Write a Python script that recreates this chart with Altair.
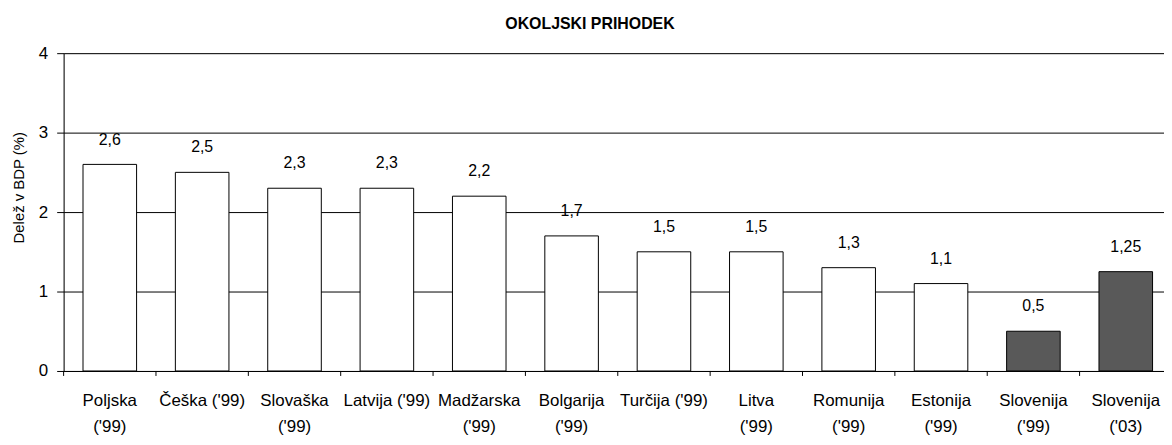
import altair as alt
import pandas as pd

categories = [
    "Poljska\n('99)", "Češka ('99)", "Slovaška\n('99)", "Latvija ('99)",
    "Madžarska\n('99)", "Bolgarija\n('99)", "Turčija ('99)", "Litva\n('99)",
    "Romunija\n('99)", "Estonija\n('99)", "Slovenija\n('99)", "Slovenija\n('03)",
]
values = [2.6, 2.5, 2.3, 2.3, 2.2, 1.7, 1.5, 1.5, 1.3, 1.1, 0.5, 1.25]
value_labels = ["2,6", "2,5", "2,3", "2,3", "2,2", "1,7", "1,5", "1,5", "1,3", "1,1", "0,5", "1,25"]
groups = ["ostale"] * 10 + ["Slovenija"] * 2
y_ticks = [0, 1, 2, 3, 4]

df = pd.DataFrame({"drzava": categories, "vrednost": values,
                   "oznaka": value_labels, "skupina": groups})

FONT = "Liberation Sans"
W, H = 1116, 320
step = W / len(categories)

x_enc = alt.X("drzava:N", sort=None, title=None,
              scale=alt.Scale(paddingInner=0.42, paddingOuter=0.21),
              axis=alt.Axis(labelExpr="split(datum.value, '\\n')", labelAngle=0,
                            ticks=False, labelPadding=22, labelBaseline="top",
                            labelLineHeight=26, labelFontSize=17, labelFont=FONT,
                            labelColor="black", domainColor="black", domainWidth=1,
                            labelLimit=200, grid=False))
y_enc = alt.Y("vrednost:Q", title="Delež v BDP (%)",
              scale=alt.Scale(domain=[0, 4], nice=False),
              axis=alt.Axis(values=y_ticks, format="d", grid=True, gridColor="black",
                            gridWidth=1, domainColor="black", tickColor="black", tickSize=7,
                            labelFontSize=17, labelFont=FONT, labelColor="black",
                            labelPadding=9, titleFont=FONT, titleFontSize=15,
                            titleFontWeight="normal", titleColor="black", titlePadding=12,
                            titleY=135, titleAlign="center"))

base = alt.Chart(df)

bars = base.mark_bar(stroke="black", strokeWidth=1).encode(
    x=x_enc, y=y_enc,
    fill=alt.Fill("skupina:N", scale=alt.Scale(domain=["ostale", "Slovenija"],
                                               range=["white", "#595959"]), legend=None),
)

text = base.mark_text(baseline="middle", dy=-25, font=FONT, fontSize=16, color="black").encode(
    x=alt.X("drzava:N", sort=None), y="vrednost:Q", text="oznaka:N"
)

ticks = base.mark_rule(color="black", strokeWidth=1, xOffset=-step / 2).encode(
    x=alt.X("drzava:N", sort=None), y=alt.value(H), y2=alt.value(H + 5)
)

chart = alt.layer(bars, ticks, text).properties(
    width=W, height=H,
    title=alt.TitleParams("OKOLJSKI PRIHODEK", font=FONT, fontSize=16, fontWeight="bold",
                          color="black", anchor="middle", dx=-28, offset=12),
    autosize=alt.AutoSizeParams(type="none"),
    padding={"left": 56, "top": 44, "right": -8, "bottom": 65},
).configure_view(stroke=None).configure(background="white")

chart.save("out.html", embed_options={"renderer": "svg", "actions": False})
